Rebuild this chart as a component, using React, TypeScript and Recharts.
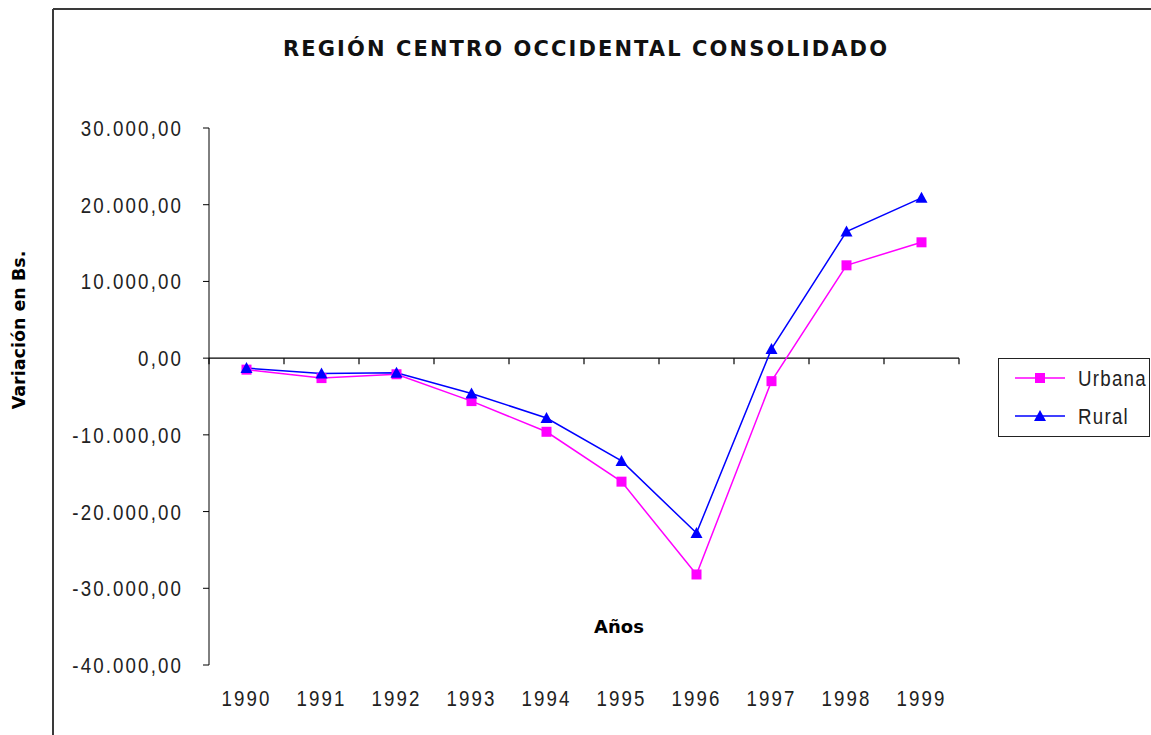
import { LineChart, Line, XAxis, YAxis, ReferenceLine, Legend } from 'recharts'

const years = ['1990', '1991', '1992', '1993', '1994', '1995', '1996', '1997', '1998', '1999']
const urbana = [-1500, -2600, -2100, -5600, -9600, -16100, -28200, -3000, 12100, 15100]
const rural = [-1300, -2000, -1900, -4600, -7800, -13400, -22800, 1200, 16500, 20900]
const yTicks = [-40000, -30000, -20000, -10000, 0, 10000, 20000, 30000]
// borders between year categories, where the small ticks sit on the zero line
const catEdges = [-0.5, 0.5, 1.5, 2.5, 3.5, 4.5, 5.5, 6.5, 7.5, 8.5, 9.5]

const data = years.map((y, i) => ({ i, year: y, urbana: urbana[i], rural: rural[i] }))

const PINK = '#FF00FF'
const BLUE = '#0000FF'
const FONT = '"Liberation Sans", Arial, sans-serif'
const SQUEEZE = 'scale(0.85,1)'

const fmt = (v: number) => {
  const neg = v < 0
  const s = Math.abs(v).toFixed(0).replace(/\B(?=(\d{3})+(?!\d))/g, '.')
  return (neg ? '-' : '') + s + ',00'
}

// narrow, tall digits like the old Excel screen font
const NarrowText = ({ x, y, anchor, dy, children, spacing = 2.5 }: any) => (
  <g transform={`translate(${x},${y}) ${SQUEEZE}`}>
    <text x={0} y={0} dy={dy} textAnchor={anchor} fontFamily={FONT} fontSize={22} letterSpacing={spacing} fill="#222">
      {children}
    </text>
  </g>
)

const YTick = (props: any) => (
  <NarrowText x={props.x} y={props.y} anchor="end" dy="0.36em">{fmt(props.payload.value)}</NarrowText>
)

const XTick = (props: any) => (
  <NarrowText x={props.x} y={props.y} anchor="middle" dy="0.71em">{years[props.payload.value]}</NarrowText>
)

const Square = (props: any) => {
  const { cx, cy } = props
  if (cx == null || cy == null) return null
  return <rect x={cx - 5} y={cy - 5} width={10} height={10} fill={PINK} />
}

const Triangle = (props: any) => {
  const { cx, cy } = props
  if (cx == null || cy == null) return null
  return <polygon points={`${cx},${cy - 6} ${cx + 6},${cy + 5} ${cx - 6},${cy + 5}`} fill={BLUE} />
}

const LegendBox = () => (
  <svg width={153} height={80} style={{ display: 'block' }}>
    <rect x={0.5} y={0.5} width={151} height={78} fill="#fff" stroke="#222" />
    <line x1={17} y1={20} x2={67} y2={20} stroke={PINK} strokeWidth={1.5} />
    <rect x={37} y={15} width={10} height={10} fill={PINK} />
    <NarrowText x={80} y={28} anchor="start" spacing={1.5}>Urbana</NarrowText>
    <line x1={17} y1={58} x2={67} y2={58} stroke={BLUE} strokeWidth={1.5} />
    <polygon points="42,52 48,63 36,63" fill={BLUE} />
    <NarrowText x={80} y={66} anchor="start" spacing={1.5}>Rural</NarrowText>
  </svg>
)

export default function App() {
  return (
    <div style={{ position: 'absolute', left: 0, top: 0, width: 1151, height: 735, overflow: 'hidden', background: '#fff' }}>
      <LineChart width={1151} height={735} data={data} margin={{ top: 128, right: 192, bottom: 40, left: 89 }}>
        <XAxis
          dataKey="i"
          type="number"
          domain={[-0.5, 9.5]}
          ticks={years.map((_, i) => i)}
          axisLine={false}
          tickLine={false}
          tickSize={0}
          tickMargin={25}
          height={30}
          tick={<XTick />}
          interval={0}
        />
        <YAxis
          domain={[-40000, 30000]}
          ticks={yTicks}
          width={120}
          stroke="#000"
          tickSize={6}
          tickMargin={20}
          tick={<YTick />}
          interval={0}
        />
        <ReferenceLine y={0} stroke="#000" strokeWidth={1.2} />
        {catEdges.map((e) => (
          <ReferenceLine
            key={e}
            segment={[{ x: e, y: 0 }, { x: e, y: 0 }]}
            shape={(p: any) => <line x1={p.x1} y1={p.y1} x2={p.x1} y2={p.y1 + 6} stroke="#000" strokeWidth={1.2} />}
          />
        ))}
        <Line dataKey="urbana" name="Urbana" stroke={PINK} strokeWidth={1.5} dot={<Square />} activeDot={false} isAnimationActive={false} />
        <Line dataKey="rural" name="Rural" stroke={BLUE} strokeWidth={1.5} dot={<Triangle />} activeDot={false} isAnimationActive={false} />
        <Legend
          layout="vertical"
          align="center"
          verticalAlign="middle"
          content={() => <LegendBox />}
          wrapperStyle={{ position: 'absolute', left: 998, top: 358, width: 153, height: 80 }}
        />
      </LineChart>
      <svg width={1151} height={735} style={{ position: 'absolute', left: 0, top: 0, pointerEvents: 'none' }}>
        <line x1={53} y1={9} x2={1151} y2={9} stroke="#3a3a3a" strokeWidth={2} />
        <line x1={53} y1={9} x2={53} y2={735} stroke="#3a3a3a" strokeWidth={2} />
        <text x={283} y={56} textLength={604} lengthAdjust="spacing" fontFamily="DejaVu Sans, Verdana, sans-serif" fontWeight="bold" fontSize={21} fill="#111">
          REGIÓN CENTRO OCCIDENTAL CONSOLIDADO
        </text>
        <text transform="translate(25,330) rotate(-90)" textAnchor="middle" fontFamily="DejaVu Sans, Verdana, sans-serif" fontWeight="bold" fontSize={17.5} fill="#000">
          Variación en Bs.
        </text>
        <text x={619} y={633} textAnchor="middle" fontFamily="DejaVu Sans, Verdana, sans-serif" fontWeight="bold" fontSize={18} fill="#000">
          Años
        </text>
      </svg>
    </div>
  )
}
